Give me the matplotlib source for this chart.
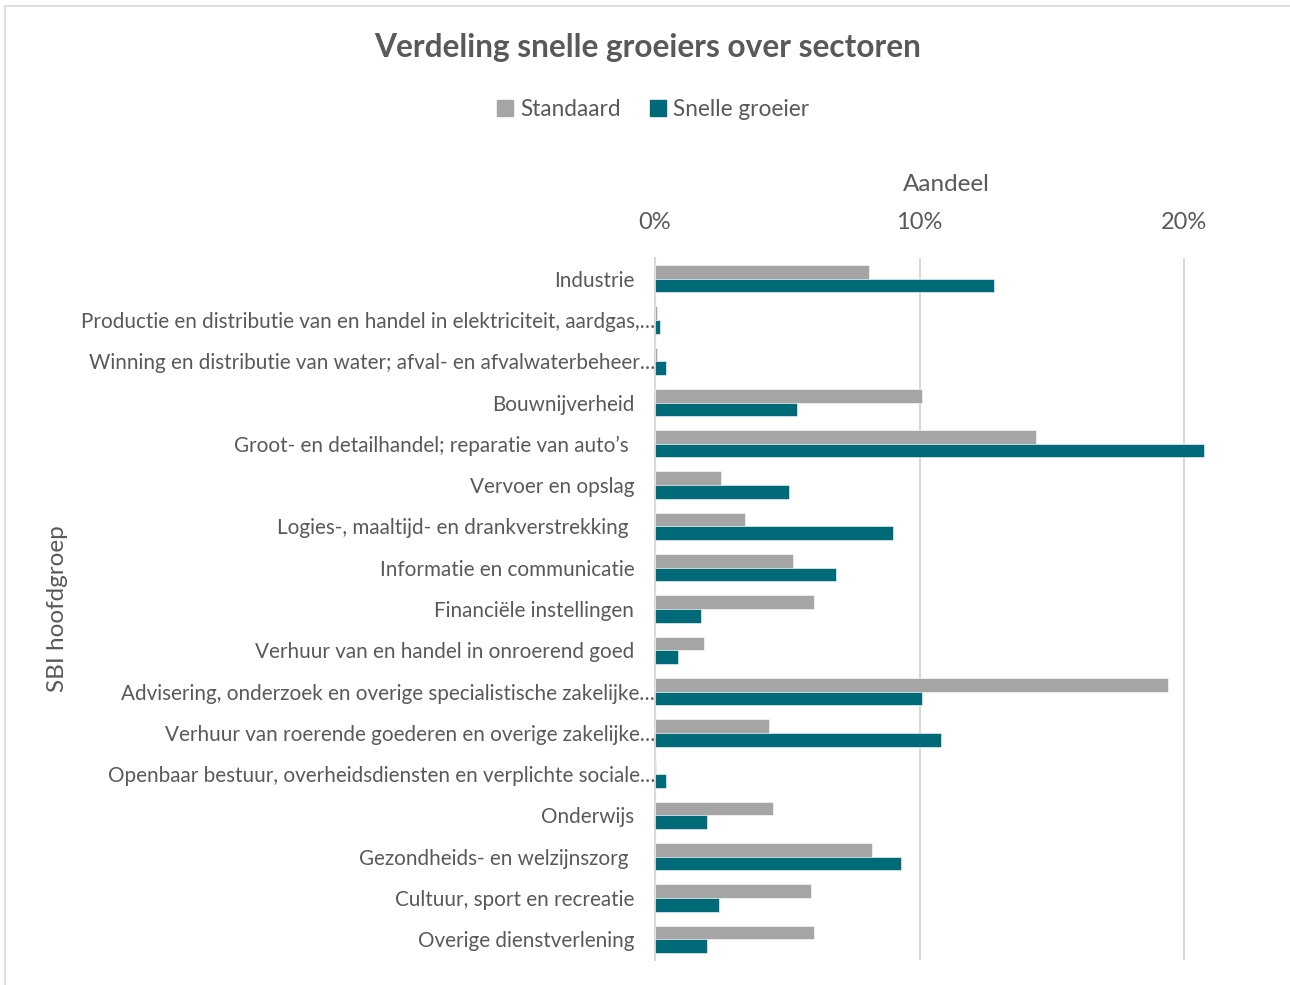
import matplotlib.pyplot as plt
from matplotlib.patches import Rectangle, Patch
from matplotlib.transforms import ScaledTranslation
import numpy as np

plt.rcParams["font.family"] = ["Lato", "DejaVu Sans"]

# SBI main groups, top to bottom
sectoren = [
    "Industrie",
    "Productie en distributie van en handel in elektriciteit, aardgas,…",
    "Winning en distributie van water; afval- en afvalwaterbeheer…",
    "Bouwnijverheid",
    "Groot- en detailhandel; reparatie van auto’s ",
    "Vervoer en opslag",
    "Logies-, maaltijd- en drankverstrekking ",
    "Informatie en communicatie",
    "Financiële instellingen",
    "Verhuur van en handel in onroerend goed",
    "Advisering, onderzoek en overige specialistische zakelijke…",
    "Verhuur van roerende goederen en overige zakelijke…",
    "Openbaar bestuur, overheidsdiensten en verplichte sociale…",
    "Onderwijs",
    "Gezondheids- en welzijnszorg ",
    "Cultuur, sport en recreatie",
    "Overige dienstverlening",
]

# share per sector in %
standaard = [8.1, 0.08, 0.09, 10.1, 14.4, 2.5, 3.4, 5.2, 6.0, 1.85,
             19.4, 4.3, 0.04, 4.45, 8.2, 5.9, 6.0]
snelle_groeier = [12.8, 0.18, 0.42, 5.35, 20.75, 5.08, 9.0, 6.86, 1.73, 0.86,
                  10.1, 10.8, 0.42, 1.98, 9.3, 2.43, 1.95]

GRIJS = "#A5A5A5"
TEAL = "#006A78"
TEKST = "#595959"
RASTER = "#D9D9D9"

fig = plt.figure(figsize=(12.9, 9.85), dpi=100)
ax = fig.add_axes([655 / 1290, 1 - 960 / 985, (1237 - 655) / 1290, (960 - 258) / 985])

y = np.arange(len(sectoren))
h = 0.33
ax.barh(y - h / 2, standaard, height=h, color=GRIJS, edgecolor="white", linewidth=0.4, zorder=3)
ax.barh(y + h / 2, snelle_groeier, height=h, color=TEAL, edgecolor="white", linewidth=0.4, zorder=3)

ax.set_ylim(len(sectoren) - 0.5, -0.5)
ax.set_xlim(0, 22)
ax.set_xticks([0, 10, 20])
ax.set_xticklabels(["0%", "10%", "20%"])
ax.xaxis.tick_top()
ax.xaxis.set_label_position("top")
ax.set_xlabel("Aandeel", fontsize=17.5, color=TEKST, labelpad=15)
ax.tick_params(axis="x", length=0, pad=18, labelsize=17, labelcolor=TEKST)
ax.grid(axis="x", color=RASTER, linewidth=1.5, zorder=0)

ax.set_yticks(y)
ax.set_yticklabels(sectoren)
ax.tick_params(axis="y", length=0, pad=15, labelsize=14.9, labelcolor=TEKST)
# truncated labels run up to the axis
for lbl in ax.get_yticklabels():
    if lbl.get_text().endswith("…"):
        lbl.set_transform(lbl.get_transform() + ScaledTranslation(15 / 72, 0, fig.dpi_scale_trans))

for s in ["top", "right", "bottom"]:
    ax.spines[s].set_visible(False)
ax.spines["left"].set_color(RASTER)
ax.spines["left"].set_linewidth(1.5)

fig.text(58 / 1290, 1 - 609 / 985, "SBI hoofdgroep", rotation=90, ha="center", va="center",
         fontsize=17.5, color=TEKST)

fig.text(648 / 1290, 1 - 47 / 985, "Verdeling snelle groeiers over sectoren", ha="center", va="center",
         fontsize=22.8, fontweight="bold", color=TEKST)

handles = [Patch(color=GRIJS, label="Standaard"), Patch(color=TEAL, label="Snelle groeier")]
fig.legend(handles=handles, loc="center", bbox_to_anchor=(653 / 1290, 1 - 109 / 985), ncol=2,
           frameon=False, fontsize=16.3, labelcolor=TEKST, handlelength=0.7, handleheight=0.7,
           handletextpad=0.3, columnspacing=1.3)

# chart frame
fig.patches.append(Rectangle((5 / 1290, -0.1), 1.2, 1.1 - 6 / 985, transform=fig.transFigure,
                             fill=False, edgecolor=RASTER, linewidth=1.2))

fig.savefig("out.png", dpi=100)
